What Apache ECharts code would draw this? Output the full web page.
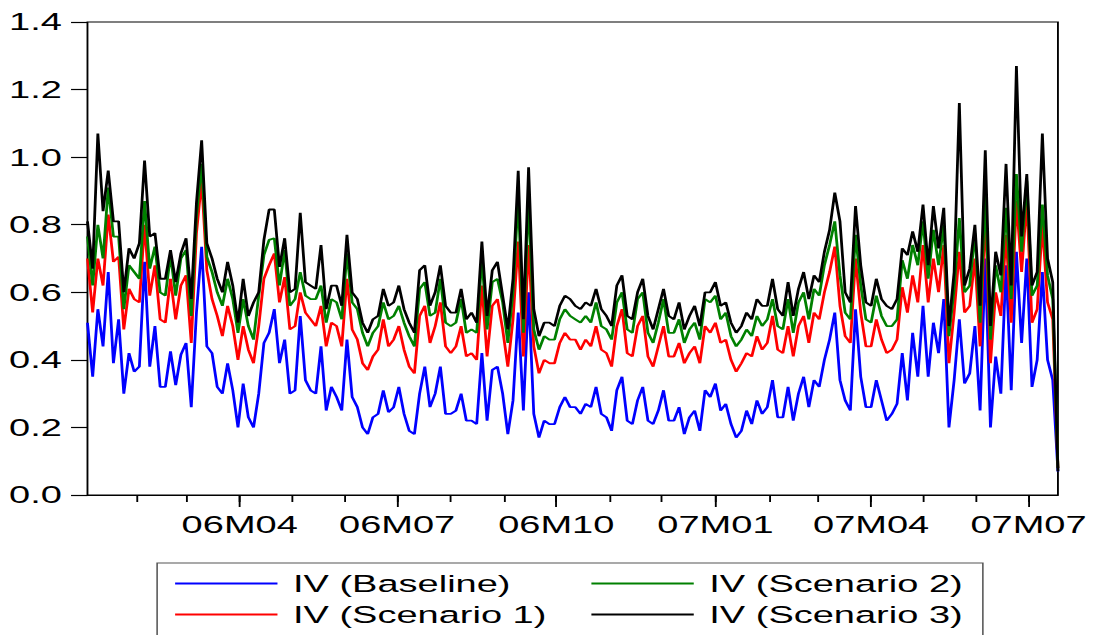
<!DOCTYPE html>
<html><head><meta charset="utf-8">
<script src="https://cdn.jsdelivr.net/npm/echarts@6/dist/echarts.min.js"></script>
<style>
html,body{margin:0;padding:0;background:#fff;overflow:hidden;}
#wrap{width:1095px;height:635px;overflow:hidden;}
#chart{width:706px;height:635px;transform:scaleX(1.551);transform-origin:0 0;}
</style></head><body><div id="wrap"><div id="chart"></div></div>
<script>
// sample every 3 calendar days from 2006-01-03 to 2007-07-18
const startDate = '2006-01-03';
const endDate = '2007-07-18';
const stepDays = 3;
const seriesNames = ['IV (Baseline)', 'IV (Scenario 1)', 'IV (Scenario 2)', 'IV (Scenario 3)'];
const yTickMin = 0, yTickMax = 1.4, yTickStep = 0.2;

const baseline = [0.51,0.35,0.55,0.44,0.66,0.39,0.52,0.30,0.42,0.365,0.38,0.69,0.38,0.50,0.32,0.32,0.425,0.325,0.415,0.45,
0.26,0.54,0.735,0.44,0.42,0.32,0.30,0.39,0.31,0.20,0.33,0.23,0.20,0.30,0.45,0.48,0.55,0.39,0.46,0.30,
0.31,0.53,0.34,0.31,0.30,0.44,0.25,0.32,0.29,0.25,0.46,0.29,0.26,0.20,0.18,0.23,0.24,0.31,0.245,0.26,
0.32,0.24,0.19,0.18,0.30,0.38,0.26,0.30,0.38,0.24,0.24,0.25,0.30,0.22,0.22,0.21,0.42,0.22,0.37,0.38,
0.30,0.18,0.28,0.54,0.25,0.60,0.24,0.17,0.22,0.21,0.21,0.26,0.29,0.26,0.26,0.24,0.27,0.26,0.32,0.24,
0.23,0.19,0.31,0.35,0.22,0.21,0.28,0.32,0.22,0.21,0.25,0.31,0.22,0.22,0.26,0.18,0.23,0.25,0.19,0.31,
0.29,0.33,0.25,0.27,0.21,0.17,0.19,0.25,0.21,0.28,0.24,0.26,0.34,0.23,0.23,0.32,0.22,0.30,0.35,0.26,
0.34,0.32,0.40,0.46,0.54,0.34,0.28,0.25,0.55,0.35,0.26,0.26,0.34,0.28,0.22,0.24,0.27,0.42,0.28,0.48,
0.35,0.56,0.35,0.51,0.42,0.58,0.20,0.34,0.52,0.33,0.36,0.50,0.25,0.70,0.20,0.41,0.30,0.68,0.31,0.72,
0.45,0.70,0.32,0.40,0.66,0.40,0.34,0.07];

const scenario1 = [0.70,0.54,0.70,0.62,0.83,0.69,0.705,0.49,0.61,0.58,0.57,0.80,0.59,0.68,0.52,0.51,0.64,0.52,0.62,0.65,
0.45,0.775,0.93,0.665,0.58,0.53,0.47,0.56,0.50,0.40,0.50,0.43,0.39,0.50,0.64,0.68,0.715,0.57,0.645,0.49,
0.50,0.60,0.54,0.52,0.50,0.56,0.44,0.51,0.50,0.44,0.64,0.49,0.46,0.39,0.37,0.41,0.43,0.52,0.44,0.46,
0.50,0.43,0.38,0.36,0.53,0.56,0.45,0.50,0.57,0.44,0.42,0.44,0.50,0.41,0.42,0.40,0.62,0.41,0.56,0.58,
0.49,0.38,0.52,0.75,0.41,0.74,0.44,0.36,0.40,0.39,0.39,0.45,0.48,0.46,0.46,0.43,0.46,0.44,0.50,0.43,
0.42,0.38,0.50,0.55,0.42,0.41,0.50,0.53,0.41,0.38,0.44,0.50,0.41,0.41,0.45,0.39,0.42,0.44,0.39,0.50,
0.48,0.51,0.45,0.46,0.40,0.365,0.39,0.42,0.41,0.47,0.43,0.45,0.53,0.43,0.42,0.50,0.41,0.50,0.53,0.45,
0.54,0.52,0.60,0.66,0.735,0.56,0.47,0.45,0.70,0.54,0.44,0.44,0.52,0.46,0.42,0.43,0.46,0.615,0.54,0.65,
0.57,0.74,0.57,0.70,0.60,0.74,0.39,0.54,0.72,0.54,0.56,0.70,0.44,0.84,0.39,0.60,0.53,0.77,0.51,0.87,
0.66,0.87,0.51,0.55,0.80,0.57,0.52,0.08];

const scenario2 = [0.765,0.62,0.80,0.70,0.91,0.765,0.765,0.55,0.68,0.66,0.64,0.87,0.67,0.735,0.60,0.59,0.71,0.59,0.70,0.725,
0.53,0.825,0.98,0.705,0.66,0.60,0.56,0.64,0.58,0.48,0.58,0.50,0.46,0.59,0.71,0.755,0.76,0.62,0.725,0.56,
0.58,0.66,0.59,0.58,0.58,0.62,0.51,0.58,0.57,0.52,0.715,0.57,0.55,0.48,0.44,0.48,0.50,0.57,0.52,0.53,
0.56,0.51,0.47,0.44,0.61,0.63,0.53,0.54,0.64,0.51,0.50,0.51,0.58,0.48,0.49,0.48,0.70,0.49,0.63,0.64,
0.57,0.45,0.60,0.88,0.48,0.88,0.49,0.43,0.47,0.46,0.46,0.52,0.55,0.53,0.52,0.51,0.53,0.51,0.57,0.50,
0.49,0.46,0.57,0.60,0.49,0.48,0.58,0.60,0.48,0.45,0.51,0.58,0.48,0.48,0.52,0.45,0.49,0.51,0.46,0.58,
0.57,0.59,0.52,0.54,0.47,0.44,0.46,0.49,0.47,0.53,0.50,0.52,0.58,0.50,0.49,0.58,0.48,0.57,0.60,0.52,
0.61,0.59,0.68,0.74,0.81,0.65,0.54,0.52,0.77,0.62,0.52,0.51,0.59,0.53,0.50,0.50,0.52,0.695,0.64,0.74,
0.68,0.81,0.64,0.785,0.68,0.80,0.47,0.61,0.82,0.60,0.62,0.775,0.51,0.89,0.46,0.68,0.60,0.85,0.58,0.95,
0.72,0.93,0.59,0.62,0.86,0.65,0.58,0.08];

const scenario3 = [0.81,0.67,1.07,0.84,0.96,0.81,0.81,0.60,0.73,0.70,0.745,0.99,0.765,0.775,0.64,0.64,0.725,0.63,0.715,0.76,
0.58,0.865,1.05,0.745,0.70,0.64,0.60,0.69,0.62,0.51,0.64,0.53,0.57,0.60,0.755,0.845,0.845,0.675,0.76,0.60,
0.61,0.835,0.63,0.62,0.61,0.74,0.55,0.62,0.62,0.56,0.77,0.60,0.58,0.51,0.48,0.52,0.53,0.61,0.56,0.57,
0.62,0.55,0.51,0.48,0.665,0.68,0.56,0.60,0.68,0.56,0.54,0.54,0.61,0.52,0.54,0.51,0.75,0.53,0.665,0.69,
0.59,0.49,0.64,0.96,0.52,0.97,0.55,0.47,0.51,0.51,0.50,0.56,0.59,0.58,0.56,0.55,0.57,0.56,0.61,0.55,
0.53,0.50,0.62,0.65,0.53,0.52,0.60,0.64,0.53,0.49,0.55,0.61,0.53,0.52,0.57,0.49,0.53,0.56,0.50,0.60,
0.60,0.63,0.56,0.57,0.51,0.48,0.50,0.54,0.52,0.58,0.56,0.56,0.64,0.55,0.53,0.63,0.53,0.61,0.66,0.58,
0.65,0.63,0.72,0.785,0.895,0.81,0.60,0.57,0.855,0.68,0.57,0.56,0.64,0.58,0.56,0.55,0.58,0.73,0.71,0.78,
0.72,0.86,0.68,0.855,0.73,0.85,0.50,0.66,1.16,0.62,0.67,0.80,0.56,1.02,0.50,0.72,0.65,0.98,0.62,1.27,
0.765,0.95,0.62,0.66,1.07,0.70,0.63,0.07];

const seriesValues = [baseline, scenario1, scenario2, scenario3];
const seriesColors = ['#0000ff', '#ff0000', '#008000', '#000000'];

// calendar-day categories
const days = [];
const t0 = Date.parse(startDate + 'T00:00:00Z'), t1 = Date.parse(endDate + 'T00:00:00Z');
for (let t = t0; t <= t1; t += 86400000) days.push(new Date(t).toISOString().slice(0, 10));

function spread(vals) {
  const arr = days.map(() => null);
  vals.forEach((v, i) => { const k = i * stepDays; if (k < arr.length) arr[k] = v; });
  return arr;
}
const isMonthStart = (idx, val) => val.slice(8) === '01';
const isQuarterStart = (idx, val) => val.slice(8) === '01' && ['01','04','07','10'].includes(val.slice(5,7));
const FONT = "'Liberation Sans', Arial, sans-serif";

const chart = echarts.init(document.getElementById('chart'), null, { renderer: 'svg' });
chart.setOption({
  animation: false,
  backgroundColor: '#fff',
  grid: { left: 56.4, right: 23.9, top: 22, bottom: 140, show: true, borderColor: '#000', borderWidth: 1.2, backgroundColor: 'transparent' },
  xAxis: [{
    type: 'category', data: days, boundaryGap: false,
    axisLine: { show: true, lineStyle: { color: '#000', width: 1.2 } },
    axisTick: { show: true, interval: isMonthStart, length: 7, lineStyle: { color: '#000', width: 1.2 } },
    axisLabel: { show: false }, splitLine: { show: false }
  }, {
    type: 'category', data: days, boundaryGap: false, position: 'bottom',
    axisLine: { show: false },
    axisTick: { show: true, interval: isQuarterStart, length: 12, lineStyle: { color: '#000', width: 1.2 } },
    axisLabel: { show: true, interval: isQuarterStart, margin: 17, fontSize: 24.5, fontFamily: FONT, color: '#000',
      formatter: v => v.slice(2, 4) + 'M' + v.slice(5, 7) },
    splitLine: { show: false }
  }],
  yAxis: {
    type: 'value', min: yTickMin, max: yTickMax, interval: yTickStep,
    axisLine: { show: false },
    axisTick: { show: true, inside: false, length: 10.6, lineStyle: { color: '#000', width: 1.2 } },
    axisLabel: { margin: 16.5, fontSize: 24.5, fontFamily: FONT, color: '#000', formatter: v => v.toFixed(1) },
    splitLine: { show: false }
  },
  legend: {
    left: 101.3, top: 563, width: 530,
    orient: 'horizontal', itemGap: 6, itemWidth: 66, itemHeight: 2, icon: 'rect',
    padding: [8, 13, 12, 11.6],
    borderColor: '#555', borderWidth: 1, selectedMode: false,
    textStyle: { fontSize: 24.5, fontFamily: FONT, color: '#000', lineHeight: 24, padding: [0, 0, 0, 5] },
    data: [
      { name: seriesNames[0], textStyle: { width: 186.4 } },
      { name: seriesNames[2] },
      { name: seriesNames[1], textStyle: { width: 186.4 } },
      { name: seriesNames[3] }
    ]
  },
  series: seriesNames.map((n, k) => ({
    name: n, type: 'line', xAxisIndex: 0, data: spread(seriesValues[k]), connectNulls: true,
    symbol: 'none', showSymbol: false, sampling: null,
    color: seriesColors[k], itemStyle: { color: seriesColors[k] },
    lineStyle: { color: seriesColors[k], width: 1.8 }
  }))
});
</script></body></html>
